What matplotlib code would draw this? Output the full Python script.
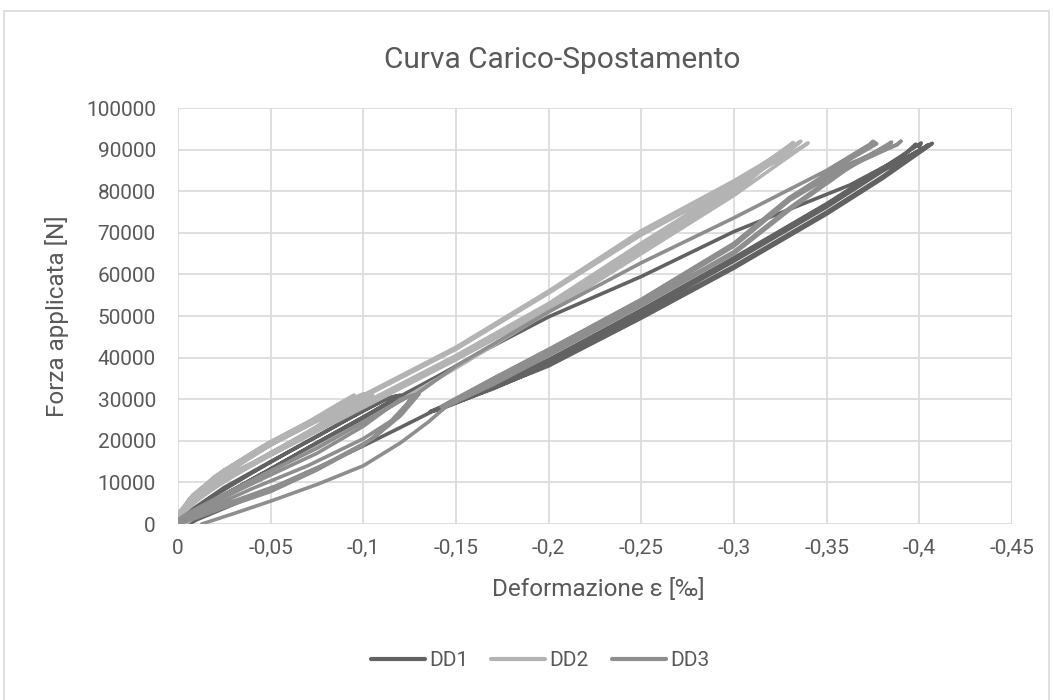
import matplotlib
matplotlib.use("Agg")
import matplotlib.pyplot as plt
from matplotlib.patches import Rectangle

# ---------------------------------------------------------------------------
# dati (deformazione in ‰, forza in N)
# ---------------------------------------------------------------------------
SERIES = ["DD1", "DD2", "DD3"]
COLORS = ["#626262", "#b3b3b3", "#8e8e8e"]

X_TICKS = [0, -0.05, -0.1, -0.15, -0.2, -0.25, -0.3, -0.35, -0.4, -0.45]
X_LABELS = ["0", "-0,05", "-0,1", "-0,15", "-0,2", "-0,25", "-0,3", "-0,35", "-0,4", "-0,45"]
Y_TICKS = [0, 10000, 20000, 30000, 40000, 50000, 60000, 70000, 80000, 90000, 100000]

# DD1: cicli fino a 31 kN, carico a 91 kN, cicli 27-91 kN, scarico finale
dd1_x = [0, -0.005, -0.025, -0.05, -0.075, -0.1, -0.115, -0.118,
         -0.112, -0.1, -0.075, -0.05, -0.025, -0.006, -0.001,
         -0.008, -0.03, -0.055, -0.08, -0.105, -0.12,
         -0.113, -0.09, -0.065, -0.04, -0.015, -0.002,
         -0.01, -0.035, -0.06, -0.085, -0.11, -0.122,
         -0.14, -0.163, -0.2, -0.25, -0.3, -0.3626, -0.39, -0.398, -0.4, -0.401,
         -0.38, -0.35, -0.3, -0.25, -0.2, -0.17, -0.14, -0.136,
         -0.138, -0.17, -0.2, -0.25, -0.3, -0.35, -0.38, -0.403, -0.405,
         -0.402, -0.38, -0.35, -0.3, -0.25, -0.2, -0.17, -0.139,
         -0.14, -0.2, -0.25, -0.3, -0.35, -0.38, -0.405, -0.407,
         -0.404, -0.38, -0.35, -0.3, -0.25, -0.2, -0.17, -0.137,
         -0.12, -0.1, -0.0757, -0.05, -0.025, -0.01, -0.006]
dd1_y = [0, 1500, 7000, 13200, 19500, 25600, 29500, 30800,
         30000, 27300, 21000, 15000, 8800, 3000, 500,
         2500, 8300, 14500, 20800, 27000, 31000,
         30200, 24800, 18700, 12300, 5600, 1200,
         3500, 9500, 15500, 21500, 28000, 31200,
         35500, 41200, 49800, 59500, 70300, 81500, 88000, 91300, 90600, 91600,
         85500, 77000, 64000, 51500, 39500, 33500, 27800, 27000,
         27200, 32500, 38300, 50000, 62000, 75000, 83500, 90600, 91200,
         90300, 84800, 76200, 63200, 50800, 39000, 33000, 27300,
         27300, 38000, 49500, 61500, 74500, 83000, 90800, 91500,
         90700, 85200, 76800, 63800, 51200, 39300, 33200, 27000,
         23200, 18800, 13600, 8500, 3800, 1000, 0]

# DD2: cicli fino a 31 kN, poi cicli fino a 92 kN
dd2_x = [0, -0.002, -0.01, -0.025, -0.05, -0.075, -0.092, -0.095,
         -0.091, -0.07, -0.045, -0.02, -0.006, -0.001,
         -0.012, -0.03, -0.055, -0.08, -0.097, -0.1,
         -0.095, -0.075, -0.05, -0.025, -0.008, -0.001,
         -0.015, -0.035, -0.06, -0.085, -0.102, -0.105,
         -0.1, -0.075, -0.05, -0.025, -0.008, 0,
         -0.01, -0.025, -0.05, -0.1, -0.15, -0.2, -0.25, -0.3, -0.33, -0.332,
         -0.3, -0.25, -0.2, -0.15, -0.1, -0.05, -0.02, 0,
         -0.012, -0.03, -0.05, -0.1, -0.15, -0.2, -0.25, -0.3, -0.334, -0.336,
         -0.3, -0.25, -0.2, -0.15, -0.1, -0.05, -0.02, -0.001,
         -0.012, -0.03, -0.05, -0.1, -0.15, -0.2, -0.25, -0.3, -0.338, -0.34,
         -0.3, -0.25, -0.2, -0.15, -0.1, -0.05, -0.02, -0.004]
dd2_y = [0, 3000, 6500, 11000, 17000, 23500, 29000, 31000,
         30000, 24500, 18500, 11500, 6000, 2000,
         7500, 12500, 18000, 24500, 29500, 31300,
         30300, 25500, 19800, 13000, 7000, 3000,
         8000, 13200, 19000, 25500, 30000, 31000,
         30000, 24800, 19000, 12500, 6500, 1500,
         5500, 10500, 16500, 28000, 39500, 51500, 65500, 79500, 90800, 91700,
         81500, 69500, 55500, 42000, 30500, 19000, 10500, 2000,
         6500, 11500, 16800, 28500, 40000, 52500, 66500, 80500, 91200, 92000,
         82500, 70500, 56000, 42500, 31000, 19500, 11000, 3000,
         7000, 12000, 17200, 29000, 40500, 53000, 67500, 81500, 91000, 91600,
         79000, 65000, 51000, 37500, 24500, 12500, 5000, 0]

# DD3: cicli fino a 31 kN, carico a 92 kN, cicli 28-92 kN, scarico finale
dd3_x = [0, -0.01, -0.025, -0.05, -0.075, -0.1, -0.11, -0.12, -0.127,
         -0.12, -0.1, -0.075, -0.05, -0.025, -0.008, 0,
         -0.012, -0.03, -0.055, -0.08, -0.105, -0.12, -0.13,
         -0.123, -0.1, -0.075, -0.05, -0.025, -0.005, 0,
         -0.015, -0.04, -0.07, -0.1, -0.115, -0.128,
         -0.15, -0.2, -0.25, -0.3, -0.35, -0.373, -0.375, -0.377,
         -0.36, -0.33, -0.3, -0.25, -0.2, -0.17, -0.145, -0.142,
         -0.144, -0.17, -0.2, -0.25, -0.3, -0.33, -0.36, -0.382, -0.385,
         -0.383, -0.36, -0.33, -0.3, -0.25, -0.2, -0.17, -0.145,
         -0.146, -0.17, -0.2, -0.25, -0.3, -0.33, -0.36, -0.388, -0.39,
         -0.388, -0.36, -0.33, -0.3, -0.25, -0.2, -0.17, -0.1457,
         -0.135, -0.12, -0.1, -0.075, -0.05, -0.03, -0.0128]
dd3_y = [0, 1500, 4000, 7800, 13000, 19000, 22500, 26500, 31000,
         30000, 23500, 17000, 11800, 6500, 2500, 500,
         2500, 5500, 9500, 14500, 20500, 26000, 31200,
         30300, 24500, 18200, 12800, 7200, 2500, 1000,
         3500, 8500, 14000, 20500, 24800, 31000,
         38000, 51000, 62800, 73600, 85000, 91200, 92000, 91400,
         87000, 78500, 67500, 54000, 42000, 35000, 29000, 28200,
         28200, 33500, 40500, 52500, 65000, 75500, 85000, 91000, 91800,
         91000, 85800, 77800, 66800, 53500, 41500, 34500, 28500,
         28500, 33800, 40800, 52800, 65500, 76000, 85500, 91200, 92000,
         91200, 86200, 78200, 67200, 53800, 41800, 34800, 28600,
         24500, 19500, 14000, 9500, 5500, 2500, 0]

DATA_X = [dd1_x, dd2_x, dd3_x]
DATA_Y = [dd1_y, dd2_y, dd3_y]

TEXT_COLOR = "#595959"
GRID_COLOR = "#d9d9d9"

plt.rcParams["font.family"] = ["Roboto", "DejaVu Sans"]

fig = plt.figure(figsize=(10.53, 7.0), dpi=100)
ax = fig.add_axes([178 / 1053, 1 - 524 / 700, (1012 - 178) / 1053, (524 - 108) / 700])

for name, col, xs, ys in zip(SERIES, COLORS, DATA_X, DATA_Y):
    ax.plot(xs, ys, color=col, linewidth=2.6, label=name,
            solid_joinstyle="round", solid_capstyle="round")

ax.set_xlim(0, -0.45)
ax.set_ylim(0, 100000)
ax.set_xticks(X_TICKS)
ax.set_xticklabels(X_LABELS)
ax.set_yticks(Y_TICKS)
ax.set_yticklabels([str(v) for v in Y_TICKS])
ax.tick_params(length=0, labelsize=15, colors=TEXT_COLOR)
ax.tick_params(axis="y", pad=16)
ax.tick_params(axis="x", pad=11)
ax.grid(True, color=GRID_COLOR, linewidth=1.2)
ax.set_axisbelow(True)
for s in ax.spines.values():
    s.set_visible(False)

fig.text(562 / 1053, 1 - 60 / 700, "Curva Carico-Spostamento", ha="center", va="center",
         fontsize=21.5, color=TEXT_COLOR)
fig.text(598 / 1053, 1 - 589 / 700, "Deformazione ε [‰]", ha="center", va="center",
         fontsize=17.5, color=TEXT_COLOR)
fig.text(57 / 1053, 1 - 316 / 700, "Forza applicata [N]", ha="center", va="center",
         rotation=90, fontsize=17.5, color=TEXT_COLOR)

leg = fig.legend(loc="center", bbox_to_anchor=(540 / 1053, 1 - 661 / 700), ncol=3,
                 frameon=False, fontsize=15, handlelength=2.6, columnspacing=1.1,
                 handletextpad=0.2)
for t in leg.get_texts():
    t.set_color(TEXT_COLOR)
for h in leg.get_lines():
    h.set_linewidth(3)

fig.patches.append(Rectangle((4 / 1053, -0.01), 1045 / 1053, 1 - 11 / 700 + 0.01,
                             transform=fig.transFigure, fill=False,
                             edgecolor=GRID_COLOR, linewidth=1.2))

fig.savefig("out.png", dpi=100)
